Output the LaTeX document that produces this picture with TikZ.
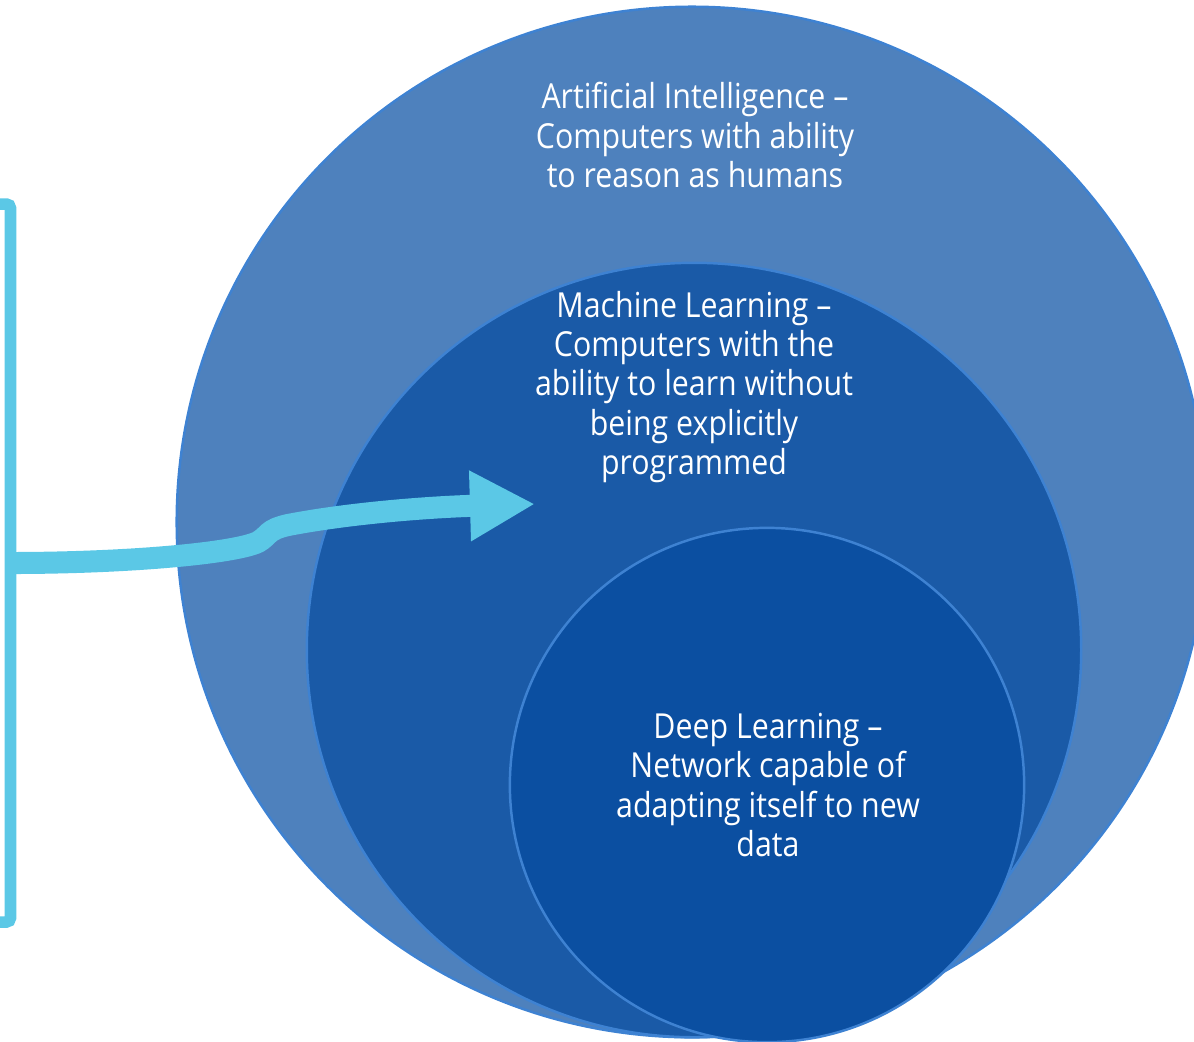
\documentclass[tikz,border=0pt]{standalone}
\usepackage{fontspec}
\setmainfont{Open Sans}[FakeStretch=0.88]
\usepackage{xcolor}
\usetikzlibrary{arrows.meta}
\definecolor{aiblue}{RGB}{78,129,189}
\definecolor{mlblue}{RGB}{26,90,167}
\definecolor{dlblue}{RGB}{11,79,161}
\definecolor{rimblue}{RGB}{62,130,210}
\definecolor{brkcyan}{RGB}{91,200,230}
\tikzset{
	layer/.style={circle, inner sep=0pt, line width=0.7pt, draw=rimblue},
	caption/.style={text=white, align=center, font=\fontsize{9.8}{11.2}\selectfont},
	brk/.style={draw=brkcyan, line width=0.115cm, rounded corners=0.04cm},
	arrowline/.style={draw=brkcyan, line width=0.22cm}
}

\begin{document}
\begin{tikzpicture}[x=0.01cm, y=-0.01cm]
	% Fix the page to the frame of the figure
	\useasboundingbox (0,0) rectangle (1194,1041);
	\clip (0,0) rectangle (1194,1041);
	
	% Draw the three nested circles
	\node[layer, fill=aiblue, minimum size=10.3cm] (ai) at (692,522) {};
	\node[layer, fill=mlblue, minimum size=7.74cm] (ml) at (694,650) {};
	\node[layer, fill=dlblue, minimum size=5.14cm] (dl) at (767,785) {};
	
	% Label the circles
	\node[caption] (ailabel) at (695,135) {Artificial Intelligence –\\Computers with ability\\to reason as humans};
	\node[caption] (mllabel) at (694,387) {Machine Learning –\\Computers with the\\ability to learn without\\being explicitly\\programmed};
	\node[caption] (dllabel) at (768,785) {Deep Learning –\\Network capable of\\adapting itself to new\\data};
	
	% Draw the bracket
	\coordinate (brktop) at (-10,204);
	\coordinate (brkbot) at (-10,922);
	\coordinate (brkmid) at (10,563);
	\draw[brk] (brktop) -- (10.5,204) -- (10.5,922) -- (brkbot);
	
	% Draw the arrow into machine learning
	\coordinate (tip) at (535,504);
	\draw[arrowline, -{Triangle[length=0.65cm,width=0.66cm]}] (brkmid) .. controls (130,563) and (235,553) .. (258,542) .. controls (270,535) and (266,530) .. (288,525) .. controls (350,513) and (430,507) .. (tip);
	
\end{tikzpicture}
\end{document}
